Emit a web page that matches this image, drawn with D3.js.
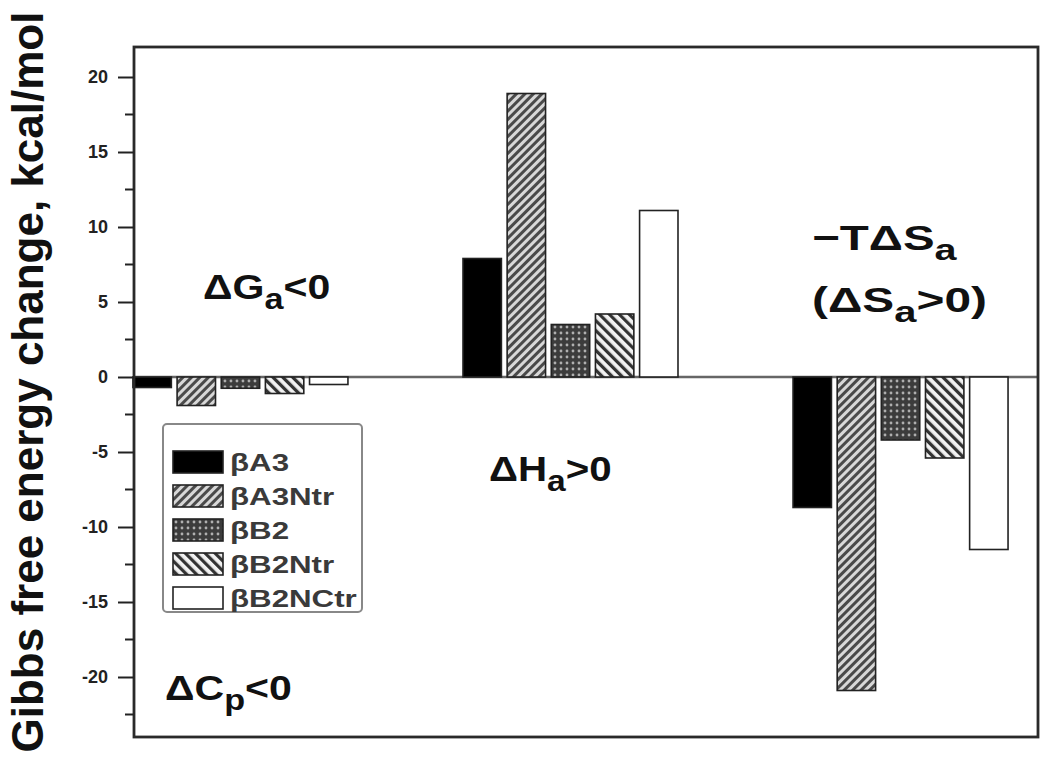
<!DOCTYPE html>
<html>
<head>
<meta charset="UTF-8" />
<script src="https://d3js.org/d3.v7.min.js"></script>
<style>
  body { margin: 0; background: #fff; }
  text { font-family: "Liberation Sans", Arial, sans-serif; }
</style>
</head>
<body>
<svg id="chart" width="1050" height="769"></svg>
<script>
// data (kcal/mol)
var groups = ["dG", "dH", "mTdS"];
var series = ["βA3", "βA3Ntr", "βB2", "βB2Ntr", "βB2NCtr"];
var dG = [-0.7, -1.9, -0.75, -1.1, -0.5];
var dH = [7.9, 18.9, 3.5, 4.2, 11.1];
var mTdS = [-8.7, -20.9, -4.2, -5.4, -11.5];
var yTicks = [-20, -15, -10, -5, 0, 5, 10, 15, 20];

var values = [dG, dH, mTdS];

var svg = d3.select("#chart");
var pL = 134, pR = 1038, pT = 47, pB = 737;

var y = d3.scaleLinear().domain([-24, 22]).range([pB, pT]);
var gx = d3.scaleLinear().domain([-0.321, 2.418]).range([pL, pR]);
var inner = d3.scaleBand().domain(series).range([-107, 108]).paddingInner(0.13);

// patterns
var defs = svg.append("defs");
var p1 = defs.append("pattern").attr("id", "pA3Ntr").attr("patternUnits", "userSpaceOnUse")
  .attr("width", 6).attr("height", 6).attr("patternTransform", "rotate(45)");
p1.append("rect").attr("width", 6).attr("height", 6).attr("fill", "#4a4a4a");
p1.append("rect").attr("width", 3).attr("height", 6).attr("fill", "#d8d8d8");

var p2 = defs.append("pattern").attr("id", "pB2").attr("patternUnits", "userSpaceOnUse")
  .attr("width", 6).attr("height", 6);
p2.append("rect").attr("width", 6).attr("height", 6).attr("fill", "#3c3c3c");
p2.append("circle").attr("cx", 3).attr("cy", 3).attr("r", 1.4).attr("fill", "#b0b0b0");

var p3 = defs.append("pattern").attr("id", "pB2Ntr").attr("patternUnits", "userSpaceOnUse")
  .attr("width", 7).attr("height", 7).attr("patternTransform", "rotate(-45)");
p3.append("rect").attr("width", 7).attr("height", 7).attr("fill", "#f2f2f2");
p3.append("rect").attr("width", 3.2).attr("height", 7).attr("fill", "#333");

var fills = ["#000", "url(#pA3Ntr)", "url(#pB2)", "url(#pB2Ntr)", "#fff"];
var color = d3.scaleOrdinal().domain(series).range(fills);

// zero line
svg.append("line")
  .attr("x1", pL).attr("x2", pR)
  .attr("y1", y(0)).attr("y2", y(0))
  .attr("stroke", "#666").attr("stroke-width", 2.5);

// bars
var gs = svg.selectAll("g.grp").data(groups).enter().append("g")
  .attr("class", "grp")
  .attr("transform", function(d, i) { return "translate(" + gx(i) + ",0)"; });

gs.selectAll("rect").data(function(d, i) { return values[i].map(function(v, j) { return { s: series[j], v: v }; }); })
  .enter().append("rect")
  .attr("x", function(d) { return inner(d.s); })
  .attr("width", inner.bandwidth())
  .attr("y", function(d) { return y(Math.max(0, d.v)); })
  .attr("height", function(d) { return Math.abs(y(d.v) - y(0)); })
  .attr("fill", function(d) { return color(d.s); })
  .attr("stroke", "#222").attr("stroke-width", 1.6);

// frame
svg.append("rect")
  .attr("x", pL).attr("y", pT)
  .attr("width", pR - pL).attr("height", pB - pT)
  .attr("fill", "none").attr("stroke", "#2a2a2a").attr("stroke-width", 2.8);

// y axis
var yAxis = svg.append("g").attr("transform", "translate(" + pL + ",0)")
  .call(d3.axisLeft(y).tickValues(yTicks).tickSize(16).tickPadding(10)
    .tickFormat(function(d) { return String(d); }));
yAxis.select(".domain").remove();
yAxis.selectAll(".tick line").attr("stroke", "#222").attr("stroke-width", 2);
yAxis.selectAll(".tick text").attr("font-size", 18).attr("font-weight", "bold").attr("fill", "#222");

var minor = d3.range(-22.5, 22, 5);
svg.append("g").selectAll("line").data(minor).enter().append("line")
  .attr("x1", pL - 9).attr("x2", pL)
  .attr("y1", function(d) { return y(d); }).attr("y2", function(d) { return y(d); })
  .attr("stroke", "#222").attr("stroke-width", 2);

svg.append("text")
  .attr("transform", "translate(43,382) rotate(-90)")
  .attr("text-anchor", "middle")
  .attr("font-size", 44).attr("font-weight", "bold").attr("fill", "#111")
  .text("Gibbs free energy change, kcal/mol");

// annotations
function note(x, yy, sx, parts) {
  var t = svg.append("text")
    .attr("transform", "translate(" + x + "," + yy + ") scale(" + sx + ",1)")
    .attr("font-size", 36).attr("font-weight", "bold").attr("fill", "#111");
  parts.forEach(function(p) {
    var ts = t.append("tspan").text(p[0]);
    if (p[1] === "sub") ts.attr("font-size", 30).attr("dy", 10);
    if (p[1] === "up") ts.attr("dy", -10);
  });
}
note(203, 299, 1.14, [["ΔG"], ["a", "sub"], ["<0", "up"]]);
note(489, 481, 1.12, [["ΔH"], ["a", "sub"], [">0", "up"]]);
note(812, 250, 1.32, [["−TΔS"], ["a", "sub"]]);
note(812, 312, 1.33, [["(ΔS"], ["a", "sub"], [">0)", "up"]]);
note(165, 700, 1.14, [["ΔC"], ["p", "sub"], ["<0", "up"]]);

// legend
var lg = svg.append("g").attr("transform", "translate(163,424)");
lg.append("rect").attr("width", 199).attr("height", 188).attr("rx", 4)
  .attr("fill", "#fff").attr("stroke", "#888").attr("stroke-width", 2);
var rows = lg.selectAll("g.row").data(series).enter().append("g")
  .attr("transform", function(d, i) { return "translate(10," + (27 + i * 34) + ")"; });
rows.append("rect").attr("width", 50).attr("height", 22)
  .attr("fill", function(d) { return color(d); })
  .attr("stroke", "#222").attr("stroke-width", 1.6);
rows.append("text")
  .attr("transform", "translate(57,20) scale(1.36,1)")
  .attr("font-size", 23).attr("font-weight", "bold").attr("fill", "#3a3a3a")
  .text(function(d) { return d; });
</script>
</body>
</html>
